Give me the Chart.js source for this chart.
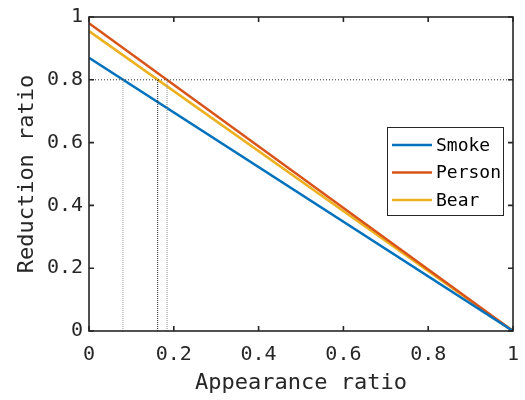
<!DOCTYPE html>
<html>
<head>
<meta charset="utf-8">
<script src="https://cdn.jsdelivr.net/npm/chart.js@4/dist/chart.umd.min.js"></script>
<style>
  html, body { margin: 0; padding: 0; background: #fff; }
  #wrap { width: 525px; height: 400px; }
</style>
</head>
<body>
<div id="wrap"><canvas id="grafico" width="525" height="400"></canvas></div>
<script>
const xs = [0, 1];
const smoke = [0.87, 0];
const person = [0.98, 0];
const bear = [0.955, 0];
const cutoff = 0.8;
const crossX = [0.08, 0.162, 0.184];
const crossColors = ["#9a9a9a", "#222222", "#888888"];
const ticks = [0, 0.2, 0.4, 0.6, 0.8, 1];

const FONT = "'DejaVu Sans Mono', monospace";
const AXIS = "#262626";

function pares(ys) {
  return xs.map((x, i) => ({ x, y: ys[i] }));
}

const series = [
  { label: "Smoke", values: smoke, color: "#0072BD" },
  { label: "Person", values: person, color: "#D95319" },
  { label: "Bear", values: bear, color: "#EDB120" }
];

const refSets = [
  {
    label: "ref",
    data: [{ x: 0, y: cutoff }, { x: 1, y: cutoff }],
    borderColor: "#333",
    borderWidth: 1,
    borderDash: [1, 2],
    pointRadius: 0
  },
  ...crossX.map((x, i) => ({
    label: "ref",
    data: [{ x, y: 0 }, { x, y: cutoff }],
    borderColor: crossColors[i],
    borderWidth: 1,
    borderDash: [1, 1],
    pointRadius: 0
  }))
];

const lineSets = series.map(s => ({
  label: s.label,
  data: pares(s.values),
  borderColor: s.color,
  backgroundColor: s.color,
  borderWidth: 2.5,
  pointRadius: 0
}));

// caixa com marcas para dentro nos quatro lados
const caixa = {
  id: "caixa",
  afterDatasetsDraw(chart) {
    const { ctx, chartArea: a, scales } = chart;
    ctx.save();
    ctx.strokeStyle = AXIS;
    ctx.lineWidth = 1.6;
    ctx.strokeRect(a.left, a.top, a.right - a.left, a.bottom - a.top);
    const tl = 5;
    ticks.forEach(v => {
      const px = scales.x.getPixelForValue(v);
      const py = scales.y.getPixelForValue(v);
      ctx.beginPath();
      ctx.moveTo(px, a.bottom); ctx.lineTo(px, a.bottom - tl);
      ctx.moveTo(px, a.top); ctx.lineTo(px, a.top + tl);
      ctx.moveTo(a.left, py); ctx.lineTo(a.left + tl, py);
      ctx.moveTo(a.right, py); ctx.lineTo(a.right - tl, py);
      ctx.stroke();
    });
    ctx.restore();
  }
};

const legenda = {
  id: "legenda",
  afterDraw(chart) {
    const { ctx } = chart;
    const x0 = 387, y0 = 127, w = 116, h = 88;
    ctx.save();
    ctx.fillStyle = "#fff";
    ctx.fillRect(x0, y0, w, h);
    ctx.strokeStyle = AXIS;
    ctx.lineWidth = 1;
    ctx.strokeRect(x0 + 0.5, y0 + 0.5, w, h);
    ctx.font = "18px " + FONT;
    ctx.textBaseline = "middle";
    series.forEach((s, i) => {
      const y = y0 + 18 + i * 27.5;
      ctx.strokeStyle = s.color;
      ctx.lineWidth = 2.5;
      ctx.beginPath();
      ctx.moveTo(x0 + 5, y); ctx.lineTo(x0 + 45, y);
      ctx.stroke();
      ctx.fillStyle = "#000";
      ctx.fillText(s.label, x0 + 49, y + 1);
    });
    ctx.restore();
  }
};

new Chart(document.getElementById("grafico"), {
  type: "line",
  data: { datasets: [...refSets, ...lineSets] },
  options: {
    responsive: false,
    animation: false,
    devicePixelRatio: 1,
    layout: { padding: { top: 17, right: 12, left: 0, bottom: 0 } },
    plugins: { legend: { display: false }, tooltip: { enabled: false } },
    scales: {
      x: {
        type: "linear",
        min: 0,
        max: 1,
        afterBuildTicks: s => { s.ticks = ticks.map(v => ({ value: v })); },
        afterFit: s => { s.height = 69; s.paddingLeft = 0; s.paddingRight = 0; },
        grid: { display: false, drawTicks: false },
        border: { display: false },
        ticks: {
          color: AXIS,
          font: { family: FONT, size: 20 },
          padding: 12,
          maxRotation: 0,
          callback: v => String(v)
        },
        title: {
          display: true,
          text: "Appearance ratio",
          color: AXIS,
          font: { family: FONT, size: 22 },
          padding: { top: 1 }
        }
      },
      y: {
        min: 0,
        max: 1,
        afterBuildTicks: s => { s.ticks = ticks.map(v => ({ value: v })); },
        afterFit: s => { s.width = 89; s.paddingTop = 0; s.paddingBottom = 0; },
        grid: { display: false, drawTicks: false },
        border: { display: false },
        ticks: {
          color: AXIS,
          font: { family: FONT, size: 20 },
          padding: 6,
          callback: v => String(v)
        },
        title: {
          display: true,
          text: "Reduction ratio",
          color: AXIS,
          font: { family: FONT, size: 22 },
          padding: { top: 14 }
        }
      }
    }
  },
  plugins: [caixa, legenda]
});
</script>
</body>
</html>
